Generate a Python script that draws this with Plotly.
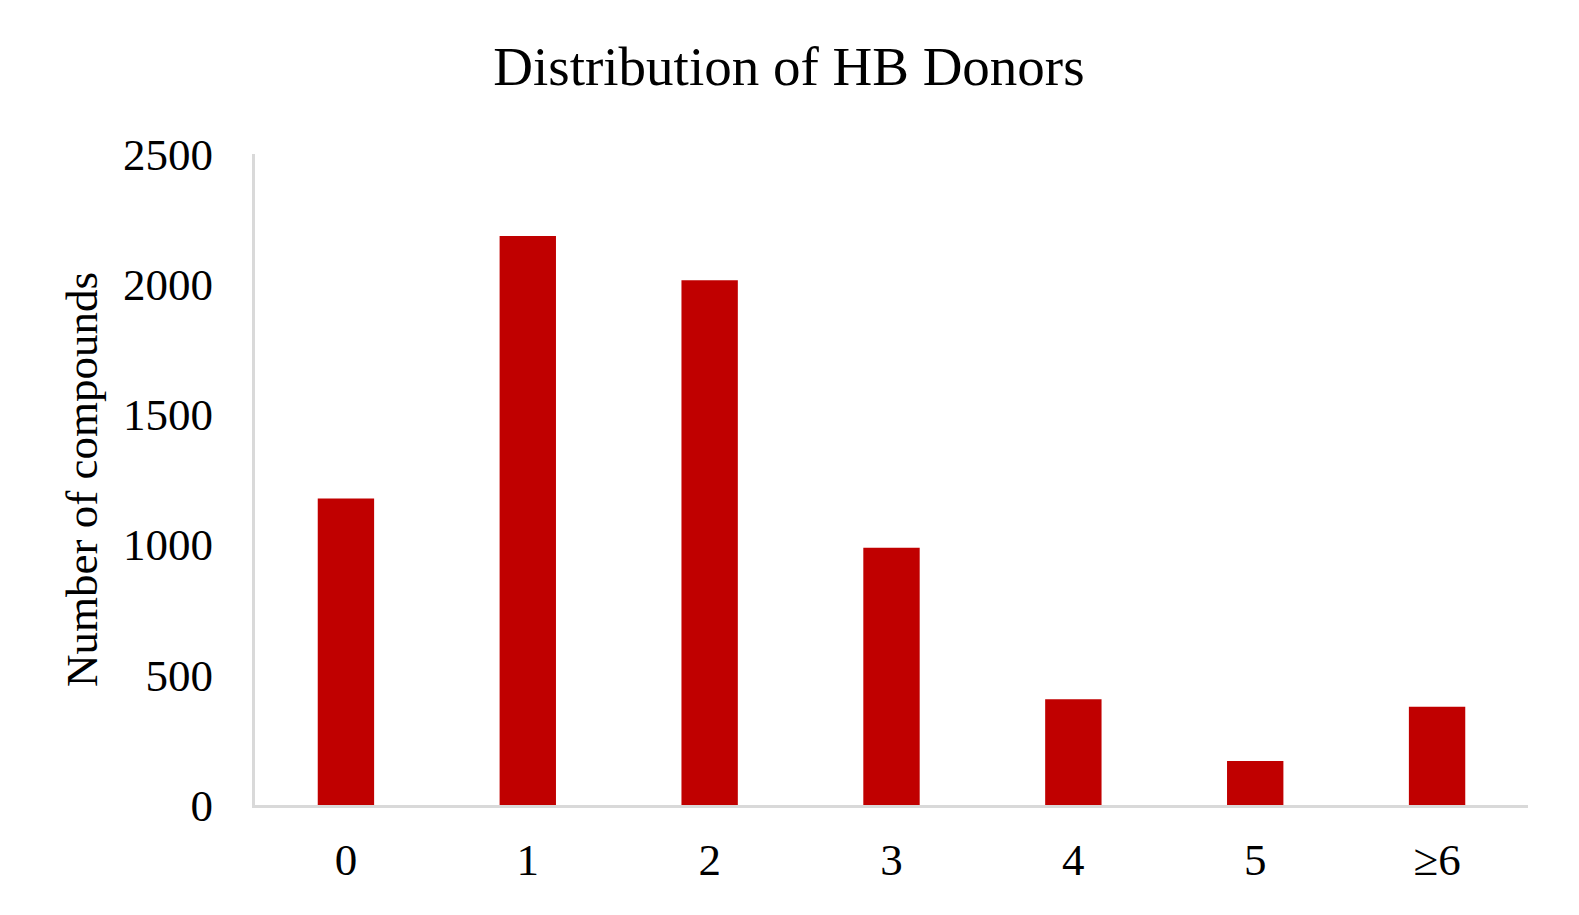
import plotly.graph_objects as go

categories = ["0", "1", "2", "3", "4", "5", "≥6"]
compounds = [1177, 2185, 2015, 988, 406, 169, 377]
y_ticks = [0, 500, 1000, 1500, 2000, 2500]

FONT = "Liberation Serif"

fig = go.Figure(
    go.Bar(
        x=categories,
        y=compounds,
        marker=dict(color="#C00000", line=dict(width=0)),
        hoverinfo="x+y",
    )
)

fig.update_layout(
    width=1579,
    height=915,
    paper_bgcolor="white",
    plot_bgcolor="white",
    margin=dict(l=247, r=59, t=146, b=118, autoexpand=False),
    bargap=0.69,
    showlegend=False,
    font=dict(family=FONT, color="black", size=45),
    title=dict(
        text="Distribution of HB Donors",
        font=dict(family=FONT, size=55, color="black"),
        x=0.4946,
        xanchor="center",
        xref="container",
        yref="container",
        y=1 - 58 / 915,
        yanchor="middle",
        automargin=False,
    ),
)

fig.update_xaxes(
    type="category",
    automargin=False,
    showline=True,
    linecolor="#d9d9d9",
    linewidth=3,
    showgrid=False,
    ticks="",
    ticklabelstandoff=13,
    tickfont=dict(family=FONT, size=45, color="black"),
)

fig.update_yaxes(
    range=[0, 2500],
    tickvals=y_ticks,
    automargin=False,
    showline=True,
    linecolor="#d9d9d9",
    linewidth=3,
    showgrid=False,
    zeroline=False,
    ticks="",
    ticklabelstandoff=30,
    tickfont=dict(family=FONT, size=45, color="black"),
    title=dict(
        text="Number of compounds",
        font=dict(family=FONT, size=45, color="black"),
        standoff=12,
    ),
)

fig.write_html("out.html")
